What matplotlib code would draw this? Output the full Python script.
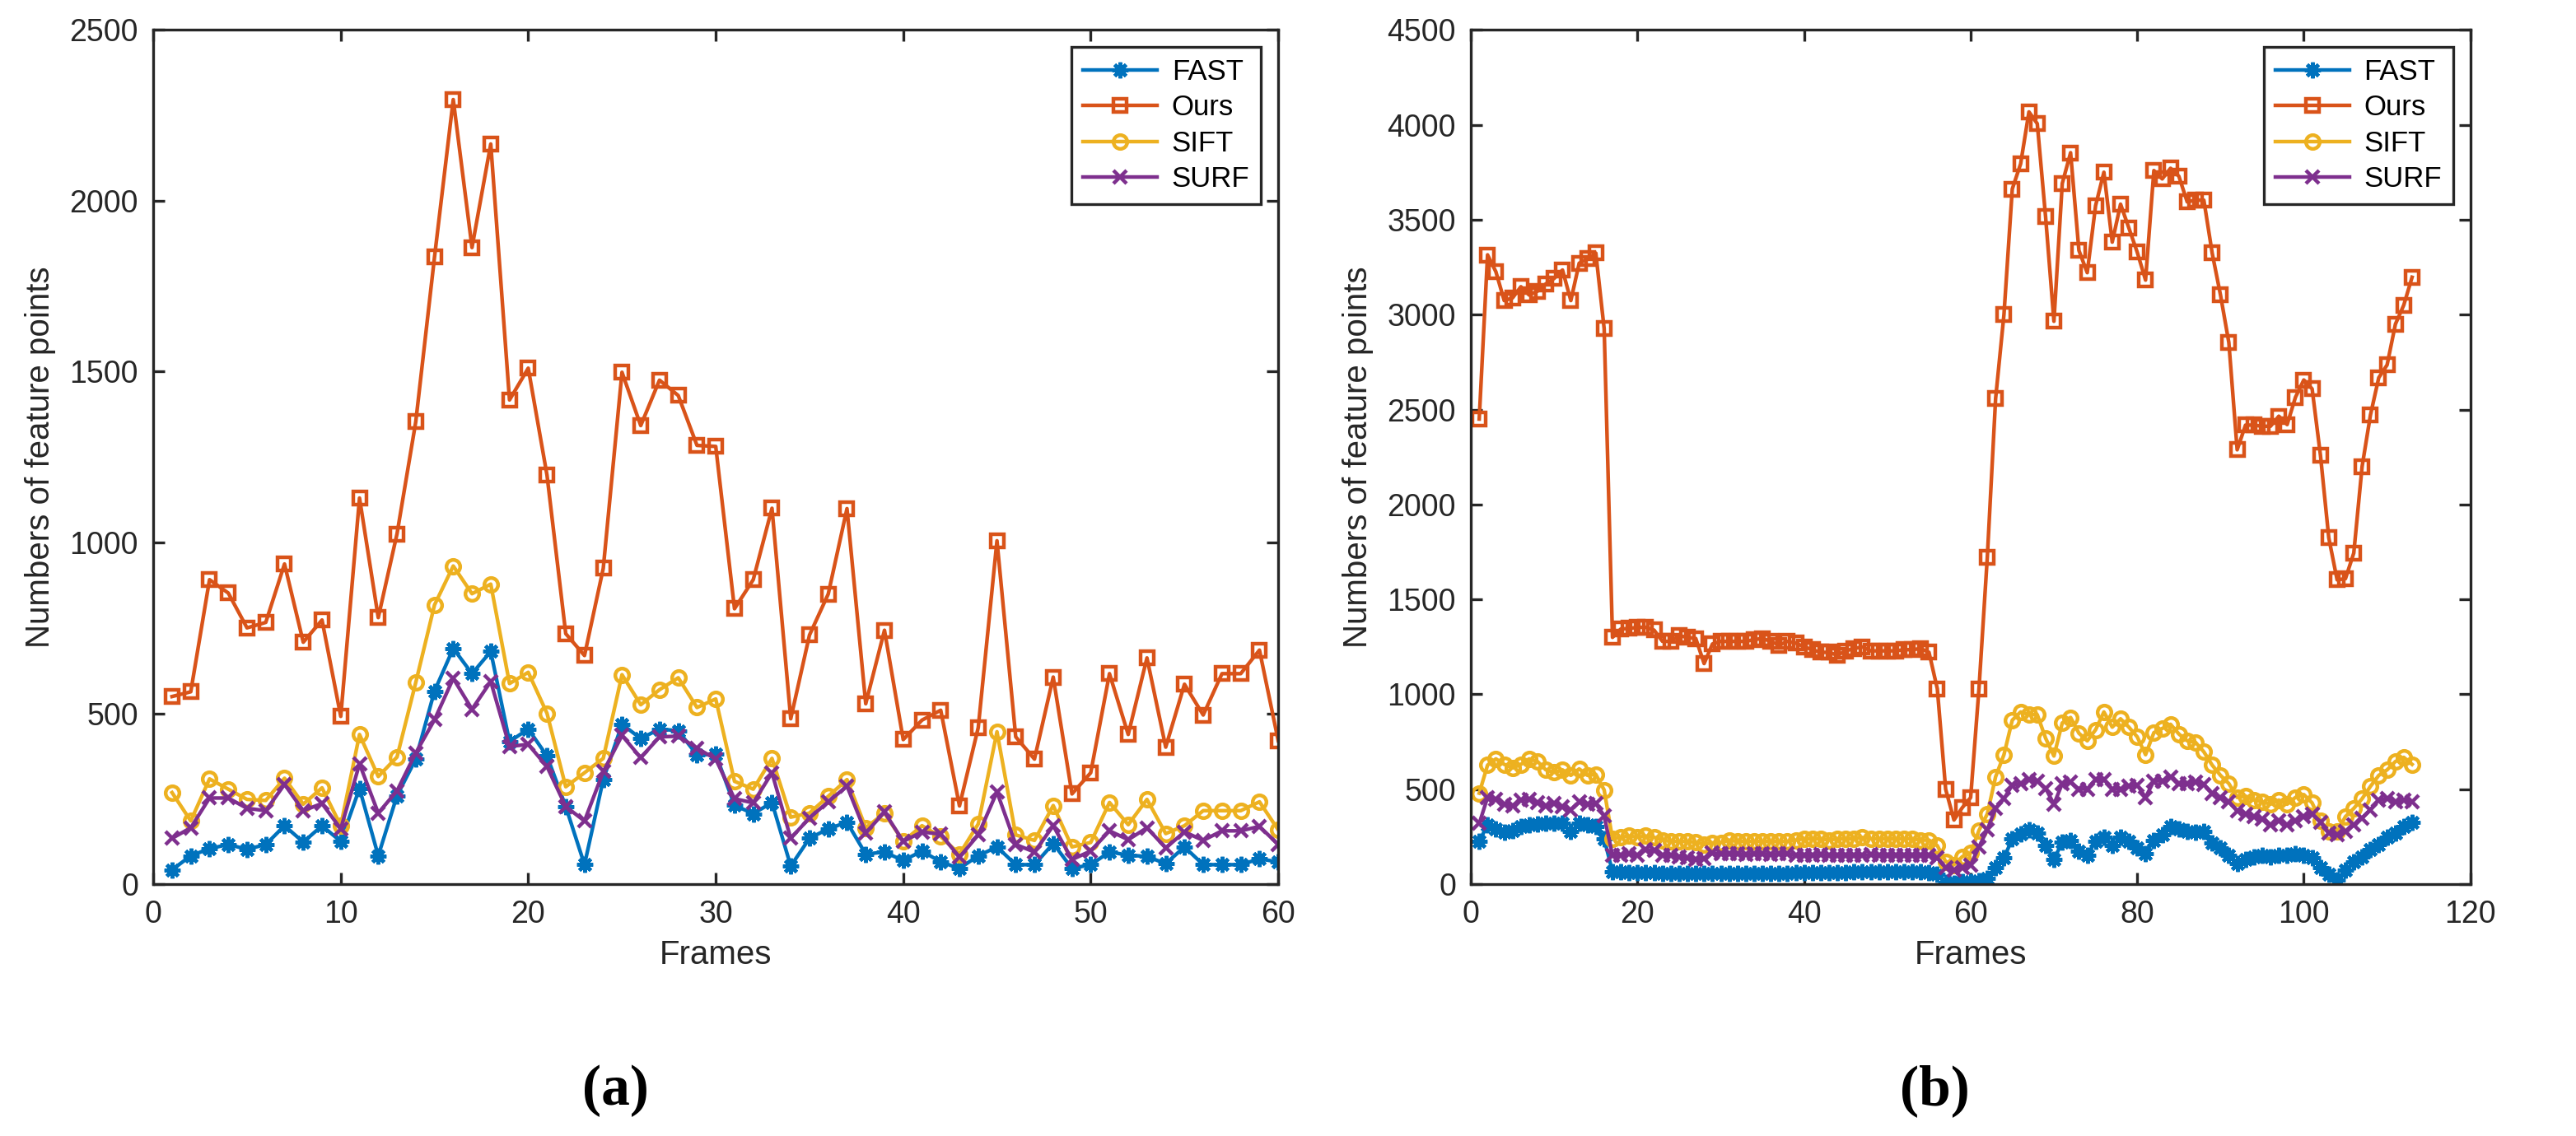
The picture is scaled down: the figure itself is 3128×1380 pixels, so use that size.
import matplotlib
matplotlib.use("Agg")
import matplotlib.pyplot as plt
import numpy as np

plt.rcParams['font.family'] = ['Liberation Sans', 'DejaVu Sans']

# ---------------- Panel (a) data ----------------
frames_a = list(range(1, 61))
fast_a = [42, 83, 104, 116, 102, 116, 171, 123, 171, 125,
          280, 83, 259, 366, 565, 690, 616, 681, 417, 454,
          375, 227, 57, 306, 468, 426, 454, 449, 378, 380,
          231, 206, 239, 53, 134, 162, 181, 88, 94, 69,
          97, 65, 46, 83, 109, 57, 57, 119, 46, 57,
          94, 85, 81, 60, 109, 57, 57, 57, 74, 65]
ours_a = [549, 563, 891, 852, 750, 766, 937, 708, 773, 491,
          1130, 780, 1025, 1353, 1835, 2296, 1863, 2166, 1417, 1510,
          1197, 733, 669, 924, 1498, 1342, 1475, 1430, 1284, 1281,
          806, 891, 1100, 484, 729, 849, 1099, 528, 743, 423,
          480, 509, 229, 458, 1005, 431, 366, 606, 264, 326,
          616, 438, 662, 401, 585, 495, 616, 616, 685, 420]
sift_a = [268, 185, 308, 278, 248, 245, 310, 234, 282, 171,
          438, 315, 372, 590, 817, 931, 850, 878, 587, 620,
          500, 285, 326, 368, 613, 525, 569, 604, 517, 542,
          301, 278, 368, 196, 208, 257, 306, 165, 208, 125,
          171, 139, 88, 176, 446, 144, 128, 230, 109, 122,
          239, 174, 248, 148, 171, 215, 215, 215, 241, 159]
surf_a = [134, 165, 252, 252, 222, 215, 292, 215, 236, 162,
          352, 208, 273, 384, 481, 602, 512, 593, 403, 409,
          344, 227, 185, 329, 435, 370, 431, 433, 398, 366,
          250, 238, 326, 134, 194, 241, 287, 150, 211, 125,
          153, 146, 79, 144, 270, 116, 94, 171, 72, 97,
          156, 130, 165, 106, 153, 128, 156, 156, 169, 116]

# ---------------- Panel (b) data ----------------
frames_b = list(range(1, 114))
ours_b = [2450, 3315, 3226, 3074, 3088, 3147, 3103, 3124, 3162, 3191,
          3235, 3074, 3271, 3294, 3324, 2926,
          1300, 1344, 1347, 1353, 1353, 1338, 1279, 1279, 1309, 1300,
          1294, 1162, 1265, 1279, 1279, 1279, 1279, 1288, 1294, 1279,
          1259, 1279, 1270,
          1250, 1235, 1221, 1221, 1206, 1229, 1241, 1250, 1229, 1229,
          1229, 1229, 1235, 1235, 1241, 1221,
          1029, 500, 338, 403, 456,
          1029, 1721, 2559, 3000, 3662, 3794, 4068, 4006, 3515, 2965,
          3691, 3853, 3338, 3221, 3574, 3750,
          3382, 3582, 3456, 3329, 3182, 3759, 3715, 3771, 3729, 3594,
          3603, 3603, 3324, 3103, 2853, 2288, 2418, 2418, 2412, 2412,
          2465, 2421, 2565, 2656, 2609, 2259, 1824, 1603, 1609, 1744,
          2200, 2471, 2668, 2735, 2950, 3050, 3197]
sift_b = [479, 627, 660, 631, 612, 631, 660, 646, 602, 588,
          602, 573, 607, 573, 578, 496,
          239, 247, 254, 247, 254, 247, 232, 225, 225, 225,
          221, 210, 218, 218, 232, 225, 225, 225, 225, 225,
          225, 225,
          232, 239, 239, 239, 232, 239, 239, 239, 246, 239,
          239, 239, 239, 239, 239, 232, 232,
          203, 119, 102, 145, 163, 283, 370, 566, 682, 864,
          907, 893, 893, 769, 675, 849, 878, 795, 755, 813,
          907, 827, 871, 827, 776, 682, 798, 820, 842, 791,
          755, 747, 697, 627, 573, 530, 457, 464, 443, 435,
          421, 443, 421, 457, 472, 428, 334, 276, 276, 356,
          399, 450, 515, 573, 602, 646, 668, 631]
surf_b = [319, 457, 447, 421, 414, 443, 447, 428, 414, 424,
          409, 392, 432, 421, 424, 360,
          152, 152, 160, 152, 181, 177, 152, 152, 145, 138,
          131, 134, 163, 160, 160, 160, 155, 160, 160, 155,
          160, 160,
          152, 152, 152, 155, 152, 152, 152, 152, 152, 155,
          152, 152, 152, 152, 152, 152, 152,
          138, 87, 73, 87, 102, 196, 287, 399, 450, 522,
          530, 552, 544, 505, 421, 530, 537, 501, 501, 552,
          552, 501, 501, 515, 522, 457, 544, 544, 566, 530,
          530, 537, 525, 479, 457, 435, 385, 370, 356, 341,
          312, 334, 312, 334, 356, 370, 327, 269, 261, 276,
          312, 348, 392, 443, 450, 435, 443, 435]
fast_b = [225, 312, 290, 273, 283, 305, 312, 316, 319, 319,
          319, 276, 319, 312, 305, 239,
          65, 65, 60, 60, 60, 60, 58, 58, 58, 58,
          58, 55, 58, 58, 58, 58, 58, 58, 58, 58,
          58, 58,
          62, 62, 62, 62, 62, 62, 62, 65, 65, 65,
          65, 65, 65, 65, 65, 65, 62,
          51, 7, 3, 15, 15, 17, 29, 87, 138, 239,
          264, 287, 269, 203, 131, 221, 232, 174, 152, 225,
          247, 203, 247, 225, 189, 160, 232, 261, 305, 290,
          279, 273, 276, 218, 189, 152, 109, 131, 145, 152,
          145, 152, 152, 160, 152, 138, 87, 51, 22, 73,
          116, 145, 181, 210, 247, 269, 305, 327]

series_names = ["FAST", "Ours", "SIFT", "SURF"]
colors = ["#0072BD", "#D95319", "#EDB120", "#7E2F8E"]
markers = [(8, 2, 0), "s", "o", "x"]

fig = plt.figure(figsize=(15.64, 6.9), dpi=200)
ax1 = fig.add_axes([0.0595, 0.2217, 0.4367, 0.752])
ax2 = fig.add_axes([0.571, 0.2217, 0.388, 0.752])

axc = "#262626"

def draw(ax, x, ys, xlim, xticks, ylim, yticks):
    for y, name, c, m in zip(ys, series_names, colors, markers):
        hollow = m in ("s", "o")
        ax.plot(x, y, color=c, lw=1.6, marker=m,
                ms=7.0 if m == markers[0] else 6.0,
                mew=1.6, mfc='none' if hollow else c, mec=c, label=name)
    ax.set_xlim(*xlim)
    ax.set_ylim(*ylim)
    ax.set_xticks(xticks)
    ax.set_yticks(yticks)
    ax.tick_params(axis='x', pad=7)
    ax.tick_params(axis='y', pad=6.5)
    ax.tick_params(direction='in', top=True, right=True, length=5, width=1.2,
                   colors=axc, labelsize=13.5, labelcolor=axc)
    for s in ax.spines.values():
        s.set_color(axc)
        s.set_linewidth(1.2)
    ax.set_xlabel("Frames", fontsize=14.5, color=axc, labelpad=4)
    ax.set_ylabel("Numbers of feature points", fontsize=14.5, color=axc, labelpad=6)
    leg = ax.legend(loc='upper right', fontsize=12.5, frameon=True, fancybox=False,
                    framealpha=1, edgecolor=axc, handlelength=2.6,
                    borderaxespad=0.6, labelspacing=0.3, handletextpad=0.5,
                    borderpad=0.4)
    leg.get_frame().set_linewidth(1.2)

draw(ax1, frames_a, [fast_a, ours_a, sift_a, surf_a], (0, 60), range(0, 61, 10),
     (0, 2500), range(0, 2501, 500))
draw(ax2, frames_b, [fast_b, ours_b, sift_b, surf_b], (0, 120), range(0, 121, 20),
     (0, 4500), range(0, 4501, 500))

cap_font = ['Liberation Serif', 'DejaVu Serif']
fig.text(0.239, 0.040, "(a)", fontsize=25, fontweight='bold',
         family=cap_font, ha='center', va='center')
fig.text(0.751, 0.040, "(b)", fontsize=25, fontweight='bold',
         family=cap_font, ha='center', va='center')

fig.savefig("out.png", dpi=200)
